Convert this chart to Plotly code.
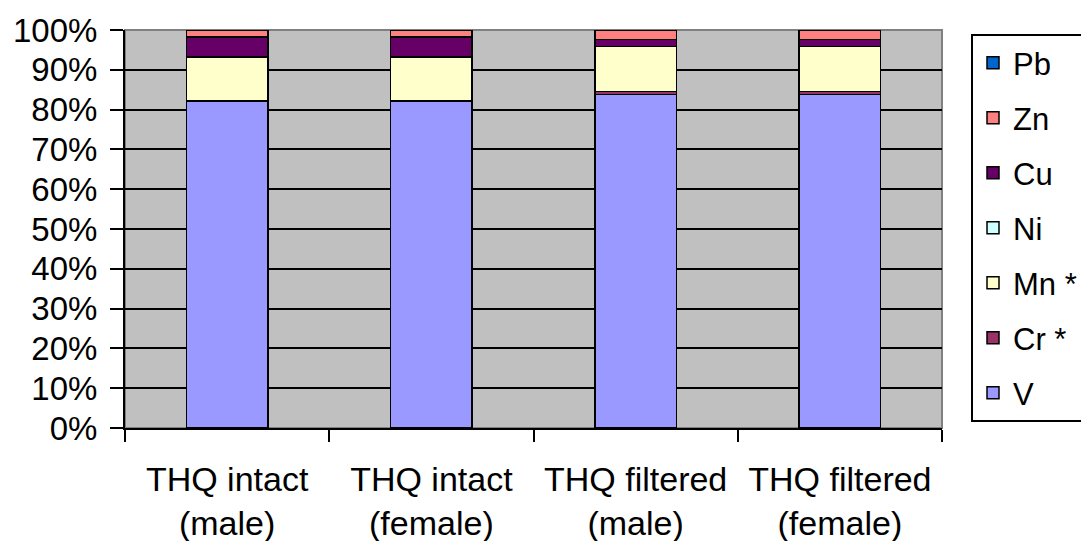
import plotly.graph_objects as go

categories = ["THQ intact<br>(male)", "THQ intact<br>(female)", "THQ filtered<br>(male)", "THQ filtered<br>(female)"]
series_names = ["V", "Cr *", "Mn *", "Ni", "Cu", "Zn", "Pb"]
V = [82.0, 82.0, 83.8, 83.8]
Cr = [0.3, 0.3, 0.7, 0.7]
Mn = [10.8, 10.8, 11.3, 11.3]
Ni = [0.1, 0.1, 0.1, 0.1]
Cu = [5.0, 5.0, 1.7, 1.7]
Zn = [1.8, 1.8, 2.3, 2.3]
Pb = [0.0, 0.0, 0.1, 0.1]
series_values = [V, Cr, Mn, Ni, Cu, Zn, Pb]
colors = ["#9999FF", "#993366", "#FFFFCC", "#CCFFFF", "#660066", "#FF8080", "#0066CC"]
y_ticks = [0, 10, 20, 30, 40, 50, 60, 70, 80, 90, 100]
y_tick_labels = [f"{v}%" for v in y_ticks]

FONT = "Liberation Sans, Arial, sans-serif"

fig = go.Figure()
n = len(series_names)
for i, (name, vals, col) in enumerate(zip(series_names, series_values, colors)):
    fig.add_trace(go.Bar(
        x=categories, y=vals, name=name, legendgroup=name, legendrank=n - i,
        marker=dict(color=col, line=dict(color="black", width=1.5)),
        width=0.4,
    ))

fig.update_layout(
    barmode="stack",
    barnorm="percent",
    width=1081, height=541,
    margin=dict(l=125, r=139, t=30, b=113, autoexpand=False),
    paper_bgcolor="white",
    plot_bgcolor="#C0C0C0",
    font=dict(family=FONT, size=32, color="black"),
    showlegend=True,
    legend=dict(
        x=1.0355, y=0.99, xanchor="left", yanchor="top",
        traceorder="grouped", tracegroupgap=11.7,
        bordercolor="black", borderwidth=2, bgcolor="white",
        font=dict(family=FONT, size=31, color="black"),
        itemwidth=30,
    ),
    xaxis=dict(
        type="category", automargin=False,
        showline=True, linecolor="black", linewidth=2,
        ticks="outside", ticklen=12, tickcolor="black", tickwidth=2,
        tickson="boundaries",
        tickfont=dict(family=FONT, size=34),
        showgrid=False,
        ticklabelstandoff=20,
    ),
    yaxis=dict(
        range=[0, 100], automargin=False,
        tickvals=y_ticks, ticktext=y_tick_labels,
        showline=True, linecolor="black", linewidth=2,
        ticks="outside", ticklen=13, tickcolor="black", tickwidth=2,
        showgrid=True, gridcolor="black", gridwidth=2,
        tickfont=dict(family=FONT, size=33),
        ticklabelstandoff=6,
        zeroline=False,
    ),
    shapes=[dict(type="rect", xref="paper", yref="paper", x0=0, x1=1, y0=0, y1=1,
                 line=dict(color="#808080", width=2), fillcolor="rgba(0,0,0,0)", layer="below")],
)

fig.write_html("out.html", config={"displayModeBar": False},
               post_script="document.body.style.margin='0';")
